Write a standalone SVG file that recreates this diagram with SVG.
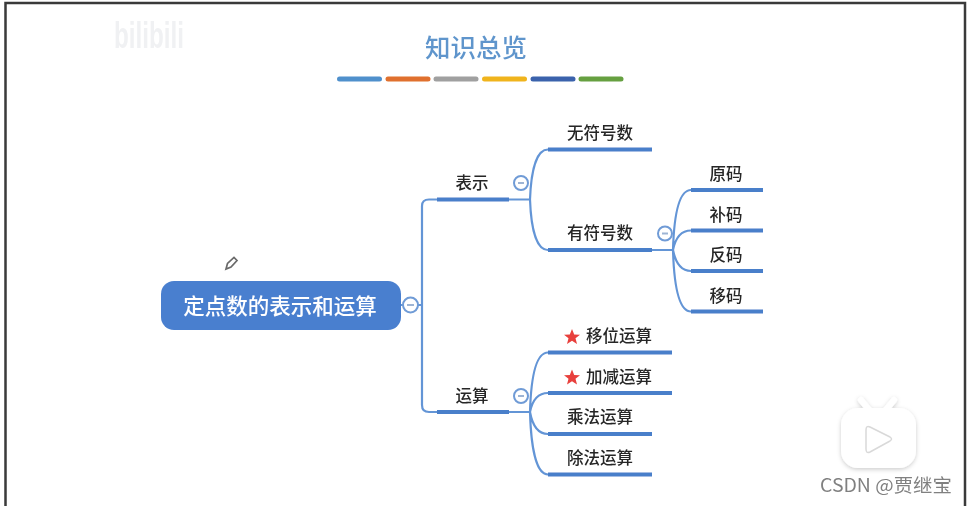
<svg xmlns="http://www.w3.org/2000/svg" width="967" height="506" viewBox="0 0 967 506">
<style>
text{font-family:"Noto Sans CJK SC","Liberation Sans",sans-serif}
.lbl{font-size:16.500px;fill:#262626;font-weight:500;text-anchor:middle}
.bar{fill:none;stroke:#4a7fca;stroke-width:4}
.con{fill:none;stroke:#6495d6;stroke-width:2.200}
.col{fill:#fff;stroke:#6f9bd6;stroke-width:2}
.dash{stroke:#9db4d4;stroke-width:2}
.swatch{stroke-width:5;stroke-linecap:round;fill:none}
.star{fill:#e8413c}
</style>
<defs>
<filter id="soft" filterUnits="userSpaceOnUse" x="0" y="0" width="967" height="506"><feGaussianBlur stdDeviation="0.5"/></filter>
<filter id="shadow" filterUnits="userSpaceOnUse" x="820" y="380" width="120" height="110"><feDropShadow dx="0" dy="1.500" stdDeviation="2" flood-color="#000" flood-opacity="0.2"/></filter>
<polygon id="starShape" points="0,-8 2.200,-2.500 8,-2.300 3.500,1.300 5,7 0,3.800 -5,7 -3.500,1.300 -8,-2.300 -2.200,-2.500"/>
</defs>
<rect width="967" height="506" fill="#fff"/>
<g id="frame"><path d="M5.500,506V3H965V506" fill="none" stroke="#3a3a3a" stroke-width="2.500"/></g>
<g id="watermark" filter="url(#soft)"><text x="114" y="48" font-size="36" font-weight="700" fill="#f0f1f3" textLength="70" lengthAdjust="spacingAndGlyphs" style="font-family:'Liberation Sans',sans-serif">bilibili</text></g>
<g id="title" filter="url(#soft)"><text x="476" y="57" font-size="25.500" font-weight="500" fill="#5f95cc" text-anchor="middle">知识总览</text></g>
<g id="swatches" filter="url(#soft)">
<path class="swatch" stroke="#5090cc" d="M339.500,79H379.500"/>
<path class="swatch" stroke="#e0702f" d="M388,79H428"/>
<path class="swatch" stroke="#a0a0a0" d="M436,79H476"/>
<path class="swatch" stroke="#f0b41e" d="M484.500,79H524.500"/>
<path class="swatch" stroke="#3a62ac" d="M533,79H573"/>
<path class="swatch" stroke="#66a040" d="M581,79H621"/>
</g>
<g id="connectors" filter="url(#soft)">
<path class="con" d="M401,305H422M422,305V206Q422,199.500 429,199.500H437M422,305V405Q422,412 429,412H437"/>
<path class="con" d="M509,199.500H530M530,199.500C531,172 536,149.500 548,149.500M530,199.500C531,227 536,250 548,250"/>
<path class="con" d="M652,250H673M673,250C674,215 679,190 691,190M673,250C675,240 680,230.500 691,230.500M673,250C675,260 680,271 691,271M673,250C674,285 679,311.500 691,311.500"/>
<path class="con" d="M509,412H530M530,412C531,377 536,352.500 548,352.500M530,412C532,402 537,393 548,393M530,412C532,423 537,434 548,434M530,412C531,447 536,474.500 548,474.500"/>
</g>
<g id="root" filter="url(#soft)">
<rect x="161" y="281" width="240" height="49" rx="13" fill="#4a7fcf"/>
<text x="280" y="313.500" font-size="21.500" font-weight="500" fill="#fff" text-anchor="middle">定点数的表示和运算</text>
<circle class="col" cx="410.500" cy="305" r="7.500"/><path class="dash" d="M407,305H414"/>
</g>
<g id="n-biaoshi" filter="url(#soft)"><path class="bar" d="M437,199.500H509"/><text class="lbl" x="472" y="189">表示</text><circle class="col" cx="521" cy="183" r="7"/><path class="dash" d="M518,183H524"/></g>
<g id="n-wufuhao" filter="url(#soft)"><path class="bar" d="M548,149.500H652"/><text class="lbl" x="600" y="139">无符号数</text></g>
<g id="n-youfuhao" filter="url(#soft)"><path class="bar" d="M548,250H652"/><text class="lbl" x="600" y="239">有符号数</text><circle class="col" cx="665" cy="233.500" r="7"/><path class="dash" d="M662,233.500H668"/></g>
<g id="n-yuanma" filter="url(#soft)"><path class="bar" d="M691,190H763"/><text class="lbl" x="726" y="180">原码</text></g>
<g id="n-buma" filter="url(#soft)"><path class="bar" d="M691,230.500H763"/><text class="lbl" x="726" y="220.500">补码</text></g>
<g id="n-fanma" filter="url(#soft)"><path class="bar" d="M691,271H763"/><text class="lbl" x="726" y="261">反码</text></g>
<g id="n-yima" filter="url(#soft)"><path class="bar" d="M691,311.500H763"/><text class="lbl" x="726" y="301.500">移码</text></g>
<g id="n-yunsuan" filter="url(#soft)"><path class="bar" d="M437,412H509"/><text class="lbl" x="472" y="402">运算</text><circle class="col" cx="521" cy="396" r="7"/><path class="dash" d="M518,396H524"/></g>
<g id="n-yiwei" filter="url(#soft)"><path class="bar" d="M548,352.500H672"/><use href="#starShape" class="star" x="572" y="337"/><text class="lbl" x="619" y="342">移位运算</text></g>
<g id="n-jiajian" filter="url(#soft)"><path class="bar" d="M548,393H672"/><use href="#starShape" class="star" x="572" y="377.500"/><text class="lbl" x="619" y="382.500">加减运算</text></g>
<g id="n-chengfa" filter="url(#soft)"><path class="bar" d="M548,434H652"/><text class="lbl" x="600" y="423">乘法运算</text></g>
<g id="n-chufa" filter="url(#soft)"><path class="bar" d="M548,474.500H652"/><text class="lbl" x="600" y="463.500">除法运算</text></g>
<g id="pencil" filter="url(#soft)"><path d="M226,269L227.500,263.500L234,257.500L237,260.500L231,267Z" fill="#fff" stroke="#6a6a6a" stroke-width="1.700"/></g>
<g id="player">
<g filter="url(#shadow)" fill="#fff">
<path d="M861,400L870,411M894,400L885,411" stroke="#fff" stroke-width="6" stroke-linecap="round"/>
<rect x="841" y="408" width="75" height="60" rx="17"/>
</g>
<path d="M866,430Q866,425 870,427L890,437Q893,439 890,441L870,452Q866,454 866,449Z" fill="#fff" stroke="#d9d9d9" stroke-width="1.500"/>
</g>
<g id="csdn" filter="url(#soft)"><text x="820" y="492" font-size="18" fill="#808080" textLength="132" lengthAdjust="spacingAndGlyphs">CSDN @贾继宝</text></g>
</svg>
